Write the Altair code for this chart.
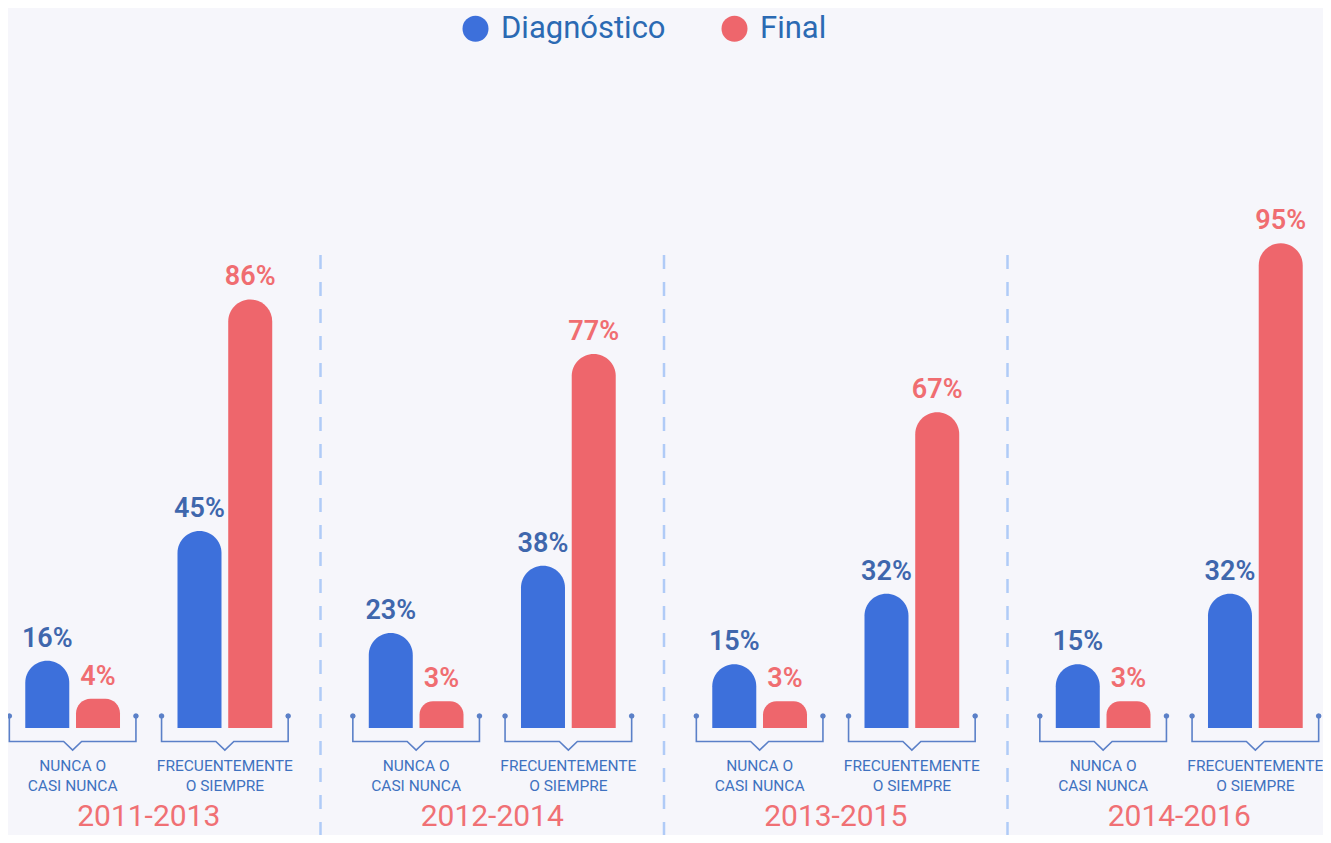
import altair as alt
import pandas as pd

# ---------------- data ----------------
PERIODOS = ["2011-2013", "2012-2014", "2013-2015", "2014-2016"]
CATEGORIAS = ["NUNCA O\nCASI NUNCA", "FRECUENTEMENTE\nO SIEMPRE"]
SERIES = ["Diagnóstico", "Final"]
DIAG_NUNCA = [16, 23, 15, 15]
FINAL_NUNCA = [4, 3, 3, 3]
DIAG_FREC = [45, 38, 32, 32]
FINAL_FREC = [86, 77, 67, 95]

# ---------------- styles ----------------
BG = "#f6f6fb"
BLUE = "#3d70db"
RED = "#ee666c"
BLUE_TXT = "#3f67ad"
RED_TXT = "#f06d71"
LEG_TXT = "#2b6ab3"
CAT_TXT = "#3f72c0"
YEAR_TXT = "#f07074"
BRACKET = "#5b80c8"
DIVIDER = "#b0cbf7"
FONT = "Roboto"

BASE = -9  # bottom of the value scale (baseline of the bars)
SLOTS = ["p1", "p2", "N-D", "N-M", "N-F", "g1", "g2", "g3", "F-D", "F-M", "F-F", "p3", "p4"]

valores = {(0, 0): DIAG_NUNCA, (0, 1): FINAL_NUNCA,
           (1, 0): DIAG_FREC, (1, 1): FINAL_FREC}
rows = []
for pi, p in enumerate(PERIODOS):
    for ci, c in enumerate(CATEGORIAS):
        for si, s in enumerate(SERIES):
            v = valores[(ci, si)][pi]
            rows.append(dict(periodo=p, categoria=c, serie=s, valor=v,
                             etiqueta=f"{v}%",
                             slot=("N", "F")[ci] + "-" + ("D", "F")[si]))
bars_df = pd.DataFrame(rows)
grp_df = pd.DataFrame([dict(periodo=p, categoria=c, slot=("N", "F")[ci] + "-M")
                       for p in PERIODOS for ci, c in enumerate(CATEGORIAS)])
per_df = pd.DataFrame(dict(periodo=PERIODOS))
div_df = pd.DataFrame(dict(periodo=PERIODOS[1:]))

# ---------------- scales ----------------
xscale = alt.Scale(domain=PERIODOS, range=[-31, 1343], paddingInner=0, paddingOuter=0)
oscale = alt.Scale(domain=SLOTS, paddingInner=0, paddingOuter=0.27)
yscale = alt.Scale(type="pow", exponent=1.3, domain=[BASE, 130.3], range=[720, 0],
                   nice=False, zero=False)


def X(bp=None):
    if bp is None:
        return alt.X("periodo:N", scale=xscale, axis=None, sort=PERIODOS)
    return alt.X("periodo:N", scale=xscale, axis=None, sort=PERIODOS, bandPosition=bp)


def XO():
    return alt.XOffset("slot:N", scale=oscale, sort=SLOTS)


Y_BASE = alt.Y(datum=BASE, scale=yscale, axis=None)

# bracket path (unit = half width of bracket)
BRACKET_PATH = ("M-1,-0.19 L-1,0.213 L-0.142,0.213 L0,0.348 "
                "L0.142,0.213 L1,0.213 L1,-0.19")


def octa(cx, cy, r):
    import math
    pts = [(cx + r * math.cos(k * math.pi / 4), cy + r * math.sin(k * math.pi / 4)) for k in range(8)]
    return "M" + " L".join(f"{x:.4f},{y:.4f}" for x, y in pts) + " Z"


DOTS_PATH = octa(-1, -0.19, 0.045) + " " + octa(1, -0.19, 0.045)
BRACKET_SIZE = 126.6 ** 2

# ---------------- layers ----------------
dividers = alt.Chart(div_df).mark_rule(
    color=DIVIDER, strokeWidth=2.5, strokeDash=[14, 13]
).encode(x=X(0), y=alt.value(247), y2=alt.value(827))

bars = alt.Chart(bars_df).mark_bar(
    width=44, cornerRadiusTopLeft=22, cornerRadiusTopRight=22
).encode(
    x=X(), xOffset=XO(),
    y=alt.Y("valor:Q", scale=yscale, axis=None),
    y2=alt.Y2(datum=BASE),
    color=alt.Color("serie:N", scale=alt.Scale(domain=SERIES, range=[BLUE, RED]),
                    legend=alt.Legend(orient="none", legendX=452, legendY=5,
                                      direction="horizontal", title=None,
                                      symbolType="circle", symbolSize=676,
                                      symbolStrokeWidth=0, symbolOpacity=1,
                                      labelFontSize=31, labelFont=FONT,
                                      labelColor=LEG_TXT, labelOffset=10,
                                      columnPadding=53, labelLimit=400,
                                      padding=0)),
)

labels = alt.Chart(bars_df).mark_text(
    font=FONT, fontSize=27, fontWeight=600, baseline="alphabetic", dy=-14
).encode(
    x=X(), xOffset=XO(),
    y=alt.Y("valor:Q", scale=yscale, axis=None),
    text="etiqueta:N",
    color=alt.Color("serie:N", scale=alt.Scale(domain=SERIES, range=[BLUE_TXT, RED_TXT]),
                    legend=None),
)

bracket = alt.Chart(grp_df).mark_point(
    shape=BRACKET_PATH, size=BRACKET_SIZE, filled=False, stroke=BRACKET,
    strokeWidth=1.6, opacity=1
).encode(x=X(), xOffset=XO(), y=Y_BASE)

dots = alt.Chart(grp_df).mark_point(
    shape=DOTS_PATH, size=BRACKET_SIZE, filled=True, fill=BRACKET,
    strokeWidth=0, opacity=1
).encode(x=X(), xOffset=XO(), y=Y_BASE)

cats = alt.Chart(grp_df).mark_text(
    font=FONT, fontSize=15.5, color=CAT_TXT, baseline="alphabetic",
    lineBreak="\n", lineHeight=20, dy=43
).encode(x=X(), xOffset=XO(), y=Y_BASE, text="categoria:N")

years = alt.Chart(per_df).mark_text(
    font=FONT, fontSize=30, color=YEAR_TXT, baseline="alphabetic", dy=98
).encode(x=X(), y=Y_BASE, text="periodo:N")

chart = alt.layer(dividers, bars, labels, bracket, dots, cats, years).resolve_scale(
    color="independent"
).properties(
    width=1315, height=827, padding=0,
    autosize=alt.AutoSizeParams(type="none"), background=BG
).configure_view(stroke=None)

chart.save("out.html", embed_options={"renderer": "svg", "actions": False})
